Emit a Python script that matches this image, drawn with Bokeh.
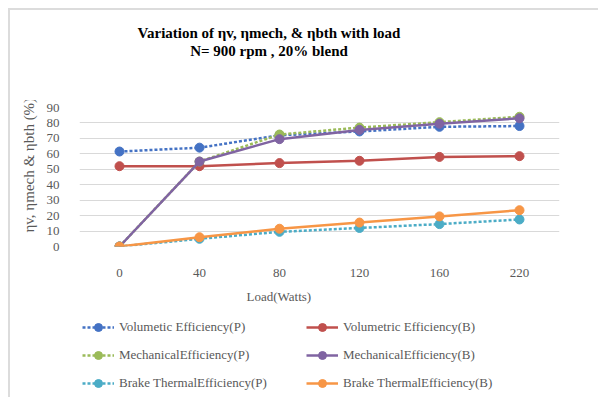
from bokeh.plotting import figure
from bokeh.layouts import column
from bokeh.models import FactorRange, Range1d, Legend, LegendItem, Title, Div
from bokeh.embed import file_html
from bokeh.resources import INLINE

# Engine test data: efficiencies (%) vs. load, N = 900 rpm, 20% blend
loads = ["0", "40", "80", "120", "160", "220"]
vol_p = [61.5, 64, 72, 74.5, 77.5, 78]
vol_b = [52, 52, 54, 55.5, 58, 58.5]
mech_p = [0, 55, 72.5, 77, 80.5, 84]
mech_b = [0, 55, 69.5, 75.5, 79.5, 83]
bte_p = [0, 5, 9.5, 12, 14.5, 17.5]
bte_b = [0, 6, 11.5, 15.5, 19.5, 23.5]

title_lines = ["Variation of ηv, ηmech, & ηbth  with load", "N= 900 rpm , 20% blend"]

series = [
    ("Volumetic Efficiency(P)", vol_p, "#4472C4", True),
    ("Volumetric Efficiency(B)", vol_b, "#C0504D", False),
    ("MechanicalEfficiency(P)", mech_p, "#9BBB59", True),
    ("MechanicalEfficiency(B)", mech_b, "#8064A2", False),
    ("Brake ThermalEfficiency(P)", bte_p, "#4BACC6", True),
    ("Brake ThermalEfficiency(B)", bte_b, "#F79646", False),
]

SERIF = "Liberation Serif"
GREY_TXT = "#595959"

# ---- title block ----
head = Div(
    text="<div style=\"width:518px;text-align:center;"
         "font:bold 15px 'Liberation Serif';"
         "line-height:18px;padding-top:14px;color:#000\">"
         + "<br>".join(title_lines) + "</div>",
    width=518, height=90, margin=0,
)

# ---- main plot ----
p = figure(
    width=589, height=212,
    x_range=FactorRange(factors=loads, range_padding=0),
    y_range=Range1d(0, 90),
    output_backend="svg", toolbar_location=None,
    min_border_left=69, min_border_right=40,
    min_border_top=7, min_border_bottom=66, margin=0,
)
p.outline_line_color = None
p.background_fill_color = "white"
p.border_fill_color = "white"

p.xaxis.axis_line_color = None
p.yaxis.axis_line_color = None
for ax in (p.xaxis, p.yaxis):
    ax.major_tick_line_color = None
    ax.minor_tick_line_color = None
    ax.major_label_text_font = SERIF
    ax.major_label_text_font_size = "13px"
    ax.major_label_text_color = GREY_TXT
p.yaxis.ticker = list(range(0, 100, 10))
p.yaxis.major_label_standoff = 14
p.xaxis.major_label_standoff = 16
p.xgrid.grid_line_color = None
p.ygrid.grid_line_color = "#D9D9D9"
p.ygrid.grid_line_width = 1

for name, vals, color, dotted in series:
    p.line(loads, vals, line_color=color, line_width=2.5,
           line_dash="3 2" if dotted else "solid")
    p.scatter(loads, vals, size=9, fill_color=color, line_color=color)

p.add_layout(Title(text="ηv, ηmech & ηbth (%)", align="left", offset=14,
                   text_font=SERIF, text_font_style="normal",
                   text_font_size="15px", text_color=GREY_TXT,
                   standoff=14), "left")
p.add_layout(Title(text="Load(Watts)", align="left", offset=167,
                   text_font=SERIF, text_font_style="normal",
                   text_font_size="13px", text_color=GREY_TXT,
                   standoff=14), "below")

# ---- legend strip (its series sit outside the visible ranges; only the key shows) ----
leg = figure(
    width=589, height=85, output_backend="svg", toolbar_location=None,
    x_range=Range1d(-20, -10), y_range=Range1d(-20, -10),
    x_axis_location=None, y_axis_location=None,
    min_border_left=0, min_border_right=0,
    min_border_top=0, min_border_bottom=0, margin=0,
)
leg.outline_line_color = None
leg.grid.visible = False
load_vals = [float(v) for v in loads]
leg_items = []
for name, vals, color, dotted in series:
    ln = leg.line(load_vals, vals, line_color=color, line_width=2.5,
                  line_dash="3 2" if dotted else "solid")
    sc = leg.scatter(load_vals, vals, size=9, fill_color=color, line_color=color)
    leg_items.append(LegendItem(label=name, renderers=[ln, sc]))

row_bottoms = [60, 32, 4]
for row, yb in enumerate(row_bottoms):
    leg.add_layout(Legend(
        items=leg_items[2 * row: 2 * row + 2], orientation="horizontal",
        location=(3, yb),
        glyph_width=32, glyph_height=20, label_height=20, label_width=179,
        label_standoff=5, spacing=8, padding=0, margin=0,
        label_text_font=SERIF, label_text_font_size="13px",
        label_text_color=GREY_TXT,
        border_line_color=None, background_fill_alpha=0,
    ), "center")

page = column(head, p, leg, spacing=0)
# light chart-area border on the top and left edges
page.styles = {
    "margin-top": "8px", "margin-left": "8px",
    "border-top": "2px solid #DCDCDC", "border-left": "2px solid #DCDCDC",
}

open("out.html", "w").write(file_html(page, INLINE))
